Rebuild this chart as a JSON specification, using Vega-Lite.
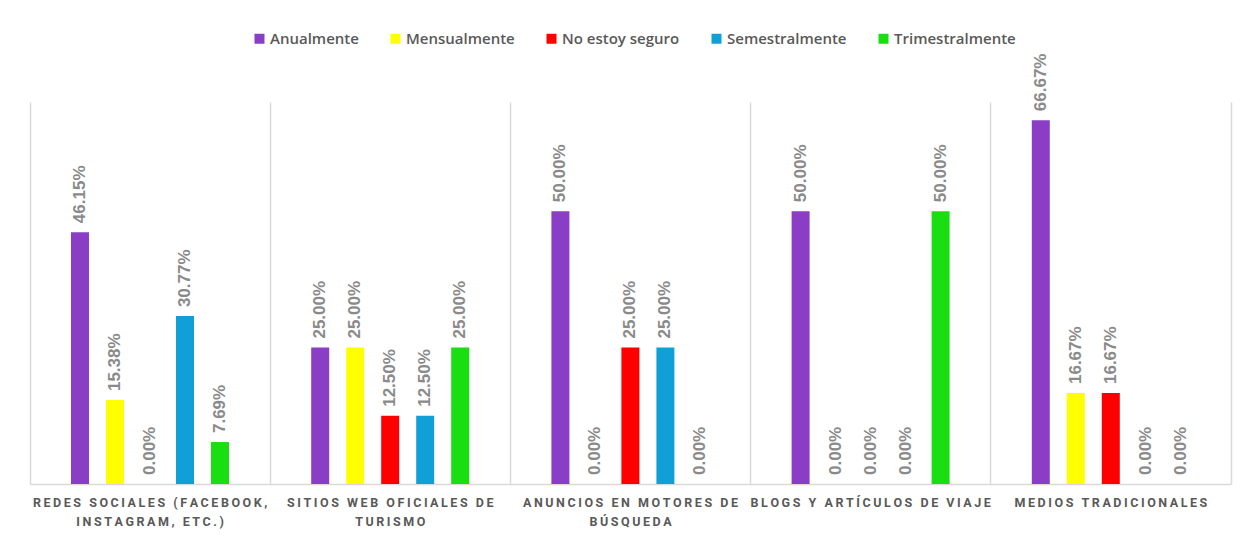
{
  "$schema": "https://vega.github.io/schema/vega-lite/v6.json",
  "autosize": {"type": "none"},
  "padding": {"left": 30, "top": 102, "right": 19, "bottom": 69},
  "width": 1201,
  "height": 382,
  "background": "white",
  "config": {
    "view": {"stroke": null},
    "font": "Liberation Sans"
  },
  "data": {
    "values": [
      {"canal": "Redes sociales (Facebook, Instagram, etc.)", "frecuencia": "Anualmente", "valor": 0.4615},
      {"canal": "Redes sociales (Facebook, Instagram, etc.)", "frecuencia": "Mensualmente", "valor": 0.1538},
      {"canal": "Redes sociales (Facebook, Instagram, etc.)", "frecuencia": "No estoy seguro", "valor": 0.0},
      {"canal": "Redes sociales (Facebook, Instagram, etc.)", "frecuencia": "Semestralmente", "valor": 0.3077},
      {"canal": "Redes sociales (Facebook, Instagram, etc.)", "frecuencia": "Trimestralmente", "valor": 0.0769},
      {"canal": "Sitios web oficiales de turismo", "frecuencia": "Anualmente", "valor": 0.25},
      {"canal": "Sitios web oficiales de turismo", "frecuencia": "Mensualmente", "valor": 0.25},
      {"canal": "Sitios web oficiales de turismo", "frecuencia": "No estoy seguro", "valor": 0.125},
      {"canal": "Sitios web oficiales de turismo", "frecuencia": "Semestralmente", "valor": 0.125},
      {"canal": "Sitios web oficiales de turismo", "frecuencia": "Trimestralmente", "valor": 0.25},
      {"canal": "Anuncios en motores de búsqueda", "frecuencia": "Anualmente", "valor": 0.5},
      {"canal": "Anuncios en motores de búsqueda", "frecuencia": "Mensualmente", "valor": 0.0},
      {"canal": "Anuncios en motores de búsqueda", "frecuencia": "No estoy seguro", "valor": 0.25},
      {"canal": "Anuncios en motores de búsqueda", "frecuencia": "Semestralmente", "valor": 0.25},
      {"canal": "Anuncios en motores de búsqueda", "frecuencia": "Trimestralmente", "valor": 0.0},
      {"canal": "Blogs y artículos de viaje", "frecuencia": "Anualmente", "valor": 0.5},
      {"canal": "Blogs y artículos de viaje", "frecuencia": "Mensualmente", "valor": 0.0},
      {"canal": "Blogs y artículos de viaje", "frecuencia": "No estoy seguro", "valor": 0.0},
      {"canal": "Blogs y artículos de viaje", "frecuencia": "Semestralmente", "valor": 0.0},
      {"canal": "Blogs y artículos de viaje", "frecuencia": "Trimestralmente", "valor": 0.5},
      {"canal": "Medios tradicionales", "frecuencia": "Anualmente", "valor": 0.6667},
      {"canal": "Medios tradicionales", "frecuencia": "Mensualmente", "valor": 0.1667},
      {"canal": "Medios tradicionales", "frecuencia": "No estoy seguro", "valor": 0.1667},
      {"canal": "Medios tradicionales", "frecuencia": "Semestralmente", "valor": 0.0},
      {"canal": "Medios tradicionales", "frecuencia": "Trimestralmente", "valor": 0.0}
    ]
  },
  "encoding": {
    "x": {
      "field": "canal",
      "type": "nominal",
      "sort": null,
      "scale": {"paddingInner": 0, "paddingOuter": 0},
      "axis": {
        "title": null,
        "bandPosition": 0,
        "grid": true,
        "gridColor": "#d9d9d9",
        "gridWidth": 1.5,
        "domainColor": "#d9d9d9",
        "domainWidth": 1.5,
        "ticks": false,
        "labelAngle": 0,
        "labelPadding": 12,
        "labelFont": "Roboto",
        "labelFontWeight": "bold",
        "labelFontSize": 12.5,
        "labelColor": "#595959",
        "labelLineHeight": 19,
        "labelLimit": 400,
        "labelBound": false,
        "labelOverlap": false,
        "labelExpr": "split(replace(replace(replace(replace(upper(datum.label), ', INSTAGRAM', ',|INSTAGRAM'), ' DE TURISMO', ' DE|TURISMO'), ' DE BÚSQUEDA', ' DE|BÚSQUEDA'), regexp('([^|])(?=[^|])', 'g'), '$1\u2009'), '|')"
      }
    },
    "xOffset": {
      "field": "frecuencia",
      "type": "nominal",
      "scale": {"range": [41, 199], "paddingInner": 0.486, "paddingOuter": 0}
    },
    "y": {
      "field": "valor",
      "type": "quantitative",
      "scale": {"domain": [0, 0.7]},
      "axis": {
        "orient": "right",
        "title": null,
        "labels": false,
        "ticks": false,
        "grid": false,
        "domain": true,
        "domainColor": "#d9d9d9",
        "domainWidth": 1.5
      }
    }
  },
  "layer": [
    {
      "mark": {"type": "bar"},
      "encoding": {
        "color": {
          "field": "frecuencia",
          "type": "nominal",
          "scale": {
            "domain": ["Anualmente", "Mensualmente", "No estoy seguro", "Semestralmente", "Trimestralmente"],
            "range": ["#8a3ec6", "#ffff00", "#ff0000", "#119fd8", "#19de12"]
          },
          "legend": {
            "title": null,
            "orient": "none",
            "direction": "horizontal",
            "legendX": 222,
            "legendY": -71,
            "symbolType": "square",
            "symbolSize": 100,
            "symbolStrokeWidth": 0,
            "symbolOpacity": 1,
            "labelOffset": 3,
            "columnPadding": 29,
            "labelFont": "Open Sans",
            "labelFontWeight": 600,
            "labelFontSize": 15,
            "labelColor": "#595959",
            "labelLimit": 300
          }
        }
      }
    },
    {
      "mark": {
        "type": "text",
        "angle": 270,
        "align": "left",
        "baseline": "middle",
        "dx": 9,
        "font": "Liberation Sans",
        "fontWeight": "bold",
        "fontSize": 17,
        "color": "#8a8a8a"
      },
      "encoding": {
        "text": {"field": "valor", "type": "quantitative", "format": ".2%"}
      }
    }
  ]
}
